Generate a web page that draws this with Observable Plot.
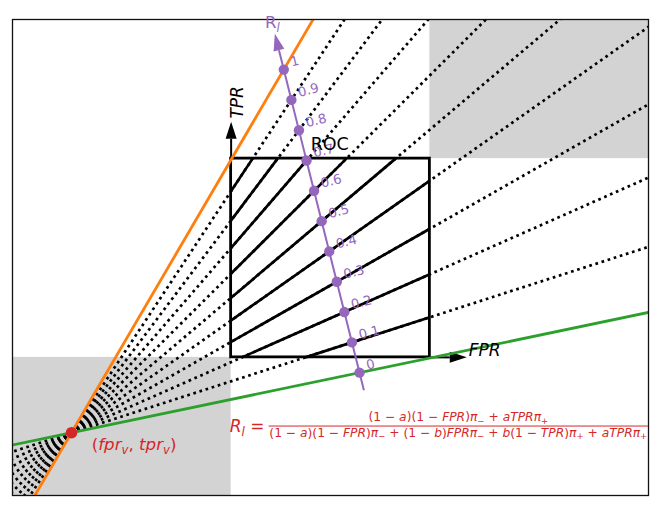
<!DOCTYPE html>
<html><head><meta charset="utf-8">
<script src="https://cdn.jsdelivr.net/npm/d3@7"></script>
<script src="https://cdn.jsdelivr.net/npm/@observablehq/plot@0.6"></script>
<style>html,body{margin:0;padding:0;background:#fff}svg{display:block}</style>
</head><body><div id="chart"></div>
<script>
// ---- data ----
const xLimits = [-1.1, 2.1];
const yLimits = [-0.695, 1.70];
const vertex = [-0.803, -0.379];            // (fpr_v, tpr_v)
const rlAxisZero = [0.646, -0.077];         // position of R_l = 0 on the purple axis
const rlAxisOne = [0.265, 1.448];           // position of R_l = 1 on the purple axis
const rlAxisExtent = [-0.058, 1.064];       // purple axis drawn from / to (in R_l units)
const rlTicks = [0, 0.1, 0.2, 0.3, 0.4, 0.5, 0.6, 0.7, 0.8, 0.9, 1];
const rlTickLabels = ["0", "0.1", "0.2", "0.3", "0.4", "0.5", "0.6", "0.7", "0.8", "0.9", "1"];
const isoValues = [0.1, 0.2, 0.3, 0.4, 0.5, 0.6, 0.7, 0.8, 0.9];
const shadedRegions = [
  {x1: xLimits[0], x2: 0, y1: yLimits[0], y2: 0},
  {x1: 1, x2: xLimits[1], y1: 1, y2: yLimits[1]}
];
const rocBox = [{x1: 0, x2: 1, y1: 0, y2: 1}];
const axisArrows = [
  {x1: 0, y1: 1, x2: 0, y2: 1.1, dir: 0},
  {x1: 1, y1: 0, x2: 1.1, y2: 0, dir: 90}
];
const rocLabel = [{x: 0.40, y: 1.044, text: "ROC"}];
const fprLabel = [{x: 1.195, y: 0.005, text: "FPR"}];
const tprLabel = [{x: 0.06, y: 1.283, text: "TPR"}];

// ---- layout ----
const W = 664, H = 509, mL = 12, mR = 16, mT = 19, mB = 14;
const kx = (W - mL - mR) / (xLimits[1] - xLimits[0]);
const ky = (H - mT - mB) / (yLimits[1] - yLimits[0]);
const purple = "#9467bd", orange = "#ff7f0e", green = "#2ca02c", red = "#d62728";

// position along the R_l axis (linear scales)
const rx = d3.scaleLinear().domain([0, 1]).range([rlAxisZero[0], rlAxisOne[0]]);
const ry = d3.scaleLinear().domain([0, 1]).range([rlAxisZero[1], rlAxisOne[1]]);
const tickPts = rlTicks.map((t, i) => ({t, x: rx(t), y: ry(t), label: rlTickLabels[i]}));
const theta = Math.atan2((rlAxisOne[0] - rlAxisZero[0]) * kx, (rlAxisOne[1] - rlAxisZero[1]) * ky) * 180 / Math.PI;

function ray(t, s0, s1) {
  const dx = rx(t) - vertex[0], dy = ry(t) - vertex[1];
  return {x1: vertex[0] + s0 * dx, y1: vertex[1] + s0 * dy, x2: vertex[0] + s1 * dx, y2: vertex[1] + s1 * dy};
}
function boxSegment(t) {
  const d = [rx(t) - vertex[0], ry(t) - vertex[1]];
  let lo = -Infinity, hi = Infinity;
  for (let k = 0; k < 2; k++) {
    const a = (0 - vertex[k]) / d[k], b = (1 - vertex[k]) / d[k];
    lo = Math.max(lo, Math.min(a, b)); hi = Math.min(hi, Math.max(a, b));
  }
  return ray(t, lo, hi);
}
const dottedRays = isoValues.flatMap(t => [ray(t, 0, 25), ray(t, 0, -25)]);
const solidSegs = isoValues.map(boxSegment);
const rlAxisLine = [{x1: rx(rlAxisExtent[0]), y1: ry(rlAxisExtent[0]), x2: rx(rlAxisExtent[1]), y2: ry(rlAxisExtent[1])}];

const arrowHead = {draw(ctx) { ctx.moveTo(0, -17); ctx.lineTo(5.5, 0); ctx.lineTo(-5.5, 0); ctx.closePath(); }};

const plot = Plot.plot({
  width: W, height: H,
  marginLeft: mL, marginRight: mR, marginTop: mT, marginBottom: mB,
  x: {domain: xLimits, axis: null},
  y: {domain: yLimits, axis: null},
  style: {fontFamily: "DejaVu Sans", background: "white", overflow: "visible"},
  marks: [
    Plot.rect(shadedRegions, {x1: "x1", x2: "x2", y1: "y1", y2: "y2", fill: "#d3d3d3"}),
    Plot.link(dottedRays, {x1: "x1", y1: "y1", x2: "x2", y2: "y2", stroke: "black", strokeWidth: 2.7, strokeDasharray: "2.7,3.7", strokeLinecap: "butt", clip: true}),
    Plot.link(solidSegs, {x1: "x1", y1: "y1", x2: "x2", y2: "y2", stroke: "black", strokeWidth: 2.7}),
    Plot.rect(rocBox, {x1: "x1", x2: "x2", y1: "y1", y2: "y2", fill: "none", stroke: "black", strokeWidth: 2.8}),
    Plot.link(axisArrows, {x1: "x1", y1: "y1", x2: "x2", y2: "y2", stroke: "black", strokeWidth: 2}),
    Plot.dot(axisArrows, {x: "x2", y: "y2", rotate: "dir", symbol: arrowHead, fill: "black", stroke: "none"}),
    Plot.link([ray(1, -25, 25)], {x1: "x1", y1: "y1", x2: "x2", y2: "y2", stroke: orange, strokeWidth: 2.8, clip: true}),
    Plot.link([ray(0, -25, 25)], {x1: "x1", y1: "y1", x2: "x2", y2: "y2", stroke: green, strokeWidth: 2.8, clip: true}),
    Plot.link(rlAxisLine, {x1: "x1", y1: "y1", x2: "x2", y2: "y2", stroke: purple, strokeWidth: 2}),
    Plot.dot(rlAxisLine, {x: "x2", y: "y2", rotate: theta, symbol: arrowHead, fill: purple, stroke: "none"}),
    Plot.dot(tickPts, {x: "x", y: "y", r: 5.2, fill: purple, stroke: "none"}),
    Plot.text(tickPts, {x: "x", y: "y", text: "label", dx: 8, dy: -3, rotate: theta, textAnchor: "start", lineAnchor: "bottom", fontSize: 13.2, fill: purple}),
    Plot.dot([vertex], {x: d => d[0], y: d => d[1], r: 5.8, fill: red, stroke: "none"}),
    Plot.text(rocLabel, {x: "x", y: "y", text: "text", textAnchor: "start", lineAnchor: "bottom", fontSize: 17.5, fill: "black"}),
    Plot.text(fprLabel, {x: "x", y: "y", text: "text", textAnchor: "start", lineAnchor: "bottom", fontSize: 17, fill: "black", fontStyle: "italic"}),
    Plot.text(tprLabel, {x: "x", y: "y", text: "text", rotate: -90, textAnchor: "middle", lineAnchor: "bottom", fontSize: 17, fill: "black", fontStyle: "italic"}),
    Plot.frame({stroke: "#111", strokeWidth: 1.3})
  ]
});
document.getElementById("chart").appendChild(plot);

// ---- mathtext-like labels ----
const sx = plot.scale("x"), sy = plot.scale("y");
const svg = d3.select(plot);
function mathText({x, y, anchor = "start", size, color, parts, target}) {
  const t = svg.append("text").attr("x", x).attr("y", y).attr("fill", color)
    .attr("font-family", "DejaVu Sans").attr("font-size", size).attr("text-anchor", anchor);
  let shift = 0;
  for (const [str, style] of parts) {
    const sub = style.includes("s");
    const ts = t.append("tspan").text(str);
    ts.attr("font-style", style.includes("i") ? "italic" : "normal");
    if (sub) ts.attr("font-size", size * 0.7);
    const want = sub ? size * 0.22 : 0;
    if (Math.abs(want - shift) > 1e-6) { ts.attr("dy", want - shift); shift = want; }
  }
  if (target) {
    const w = t.node().getComputedTextLength();
    if (w > 0) {
      const f = target / w;
      t.attr("font-size", size * f);
      t.selectAll("tspan").each(function() {
        const e = d3.select(this);
        const fs = e.attr("font-size");
        if (fs) e.attr("font-size", +fs * f);
        const dy = e.attr("dy");
        if (dy) e.attr("dy", +dy * f);
      });
    }
  }
  return t;
}
// R_l label at the top of the purple axis
mathText({x: sx.apply(0.173), y: sy.apply(1.653), size: 16.5, color: purple, parts: [["R", "r"], ["l", "is"]]});
// (fpr_v, tpr_v)
mathText({x: sx.apply(vertex[0] + 0.104), y: sy.apply(vertex[1] - 0.091), size: 16.7, color: red,
  parts: [["(", "r"], ["fpr", "i"], ["v", "is"], [", ", "r"], ["tpr", "i"], ["v", "is"], [")", "r"]]});
// formula
const fx0 = sx.apply(-0.005), fyBar = sy.apply(-0.348);
mathText({x: fx0, y: fyBar + 6, size: 17, color: red, parts: [["R", "i"], ["l", "is"], [" = ", "r"]]});
const barX1 = fx0 + 39, barX2 = sx.apply(xLimits[1]);
svg.append("line").attr("x1", barX1).attr("x2", barX2).attr("y1", fyBar).attr("y2", fyBar)
  .attr("stroke", red).attr("stroke-width", 1);
const mid = (barX1 + barX2) / 2;
mathText({x: mid, y: fyBar - 5, anchor: "middle", size: 12, color: red, target: 180,
  parts: [["(1 − ", "r"], ["a", "i"], [")(1 − ", "r"], ["FPR", "i"], [")", "r"], ["π", "i"], ["−", "s"], [" + ", "r"], ["aTPR", "i"], ["π", "i"], ["+", "s"]]});
mathText({x: mid, y: fyBar + 10.5, anchor: "middle", size: 12, color: red, target: 378,
  parts: [["(1 − ", "r"], ["a", "i"], [")(1 − ", "r"], ["FPR", "i"], [")", "r"], ["π", "i"], ["−", "s"], [" + (1 − ", "r"], ["b", "i"], [")", "r"], ["FPRπ", "i"], ["−", "s"], [" + ", "r"], ["b", "i"], ["(1 − ", "r"], ["TPR", "i"], [")", "r"], ["π", "i"], ["+", "s"], [" + ", "r"], ["aTPR", "i"], ["π", "i"], ["+", "s"]]});
</script>
</body></html>
